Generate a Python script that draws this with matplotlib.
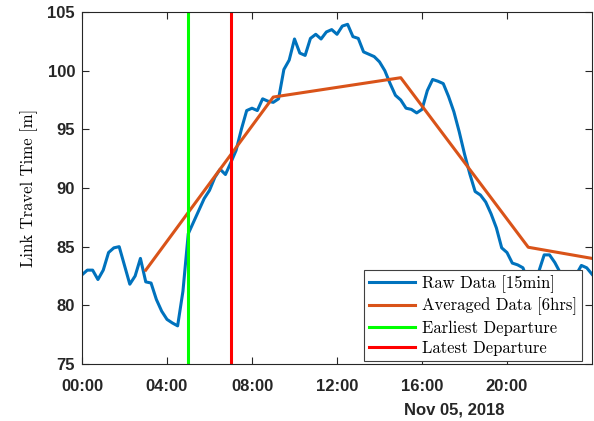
import numpy as np
import matplotlib
matplotlib.use("Agg")
import matplotlib.pyplot as plt

# raw link travel time, 15 min steps from 00:00 to 24:00
raw_hours = np.arange(0, 24.01, 0.25)
raw_time = [82.6, 83.0, 83.0, 82.2, 83.0, 84.5, 84.9, 85.0, 83.4, 81.8, 82.5, 84.0,
            82.0, 81.9, 80.5, 79.5, 78.8, 78.5, 78.25, 81.2, 86.1, 87.1, 88.1, 89.1,
            89.8, 90.9, 91.6, 91.15, 92.15, 93.2, 95.0, 96.6, 96.8, 96.6, 97.6, 97.4,
            97.3, 97.6, 100.1, 100.9, 102.7, 101.5, 101.3, 102.75, 103.1, 102.7, 103.3, 103.5,
            103.1, 103.8, 103.95, 102.9, 102.75, 101.6, 101.4, 101.2, 100.75, 100.0, 98.9, 97.9,
            97.5, 96.8, 96.7, 96.4, 96.7, 98.3, 99.25, 99.1, 98.9, 97.8, 96.5, 94.8,
            92.9, 91.2, 89.7, 89.4, 88.8, 87.8, 86.6, 84.9, 84.5, 83.6, 83.45, 83.2,
            82.0, 81.6, 82.9, 84.3, 84.3, 83.65, 82.8, 82.0, 81.8, 82.6, 83.4, 83.2,
            82.65]

# 6 hour averages
avg_hours = [3, 9, 15, 21, 24]
avg_time = [83.0, 97.75, 99.4, 84.95, 84.0]

earliest_dep = 5.0
latest_dep = 7.0

xtick_pos = [0, 4, 8, 12, 16, 20]
xtick_labels = ["00:00", "04:00", "08:00", "12:00", "16:00", "20:00"]
ytick_pos = [75, 80, 85, 90, 95, 100, 105]

fig = plt.figure(figsize=(5.94, 4.21), dpi=100)
ax = fig.add_axes([82/594, 1-364/421, 510/594, 352/421])

ax.plot(raw_hours, raw_time, color="#0072BD", lw=2.2, label="Raw Data [15min]")
ax.plot(avg_hours, avg_time, color="#D95319", lw=2.2, label="Averaged Data [6hrs]")
ax.axvline(earliest_dep, color="#00FF00", lw=2.2, label="Earliest Departure")
ax.axvline(latest_dep, color="#FF0000", lw=2.2, label="Latest Departure")

ax.set_xlim(0, 24)
ax.set_ylim(75, 105)
ax.set_xticks(xtick_pos)
ax.set_xticklabels(xtick_labels)
ax.set_yticks(ytick_pos)

for lab in ax.get_xticklabels() + ax.get_yticklabels():
    lab.set_fontfamily("Liberation Sans")
    lab.set_fontweight("bold")
    lab.set_fontsize(12)
    lab.set_color("#262626")

ax.tick_params(direction="in", top=True, right=True, length=5, width=0.8,
               color="#262626")
ax.tick_params(axis="x", pad=11)
ax.tick_params(axis="y", pad=5)
for s in ax.spines.values():
    s.set_color("#262626")
    s.set_linewidth(0.8)

ax.set_ylabel("Link Travel Time [m]", fontfamily="cmr10", fontsize=12, labelpad=7)

leg = ax.legend(loc="lower right", bbox_to_anchor=(582/594, 1-361/421),
                bbox_transform=fig.transFigure, borderaxespad=0,
                prop={"family": "cmr10", "size": 12},
                fancybox=False, framealpha=1, edgecolor="#404040",
                handlelength=2.75, labelspacing=0.3,
                handletextpad=0.4, borderpad=0.3)
leg.get_frame().set_linewidth(0.8)

fig.text(505/594, 1-410/421, "Nov 05, 2018", ha="right", va="center",
         fontfamily="Liberation Sans", fontweight="bold", fontsize=12, color="#262626")

fig.savefig("out.png", dpi=100)
